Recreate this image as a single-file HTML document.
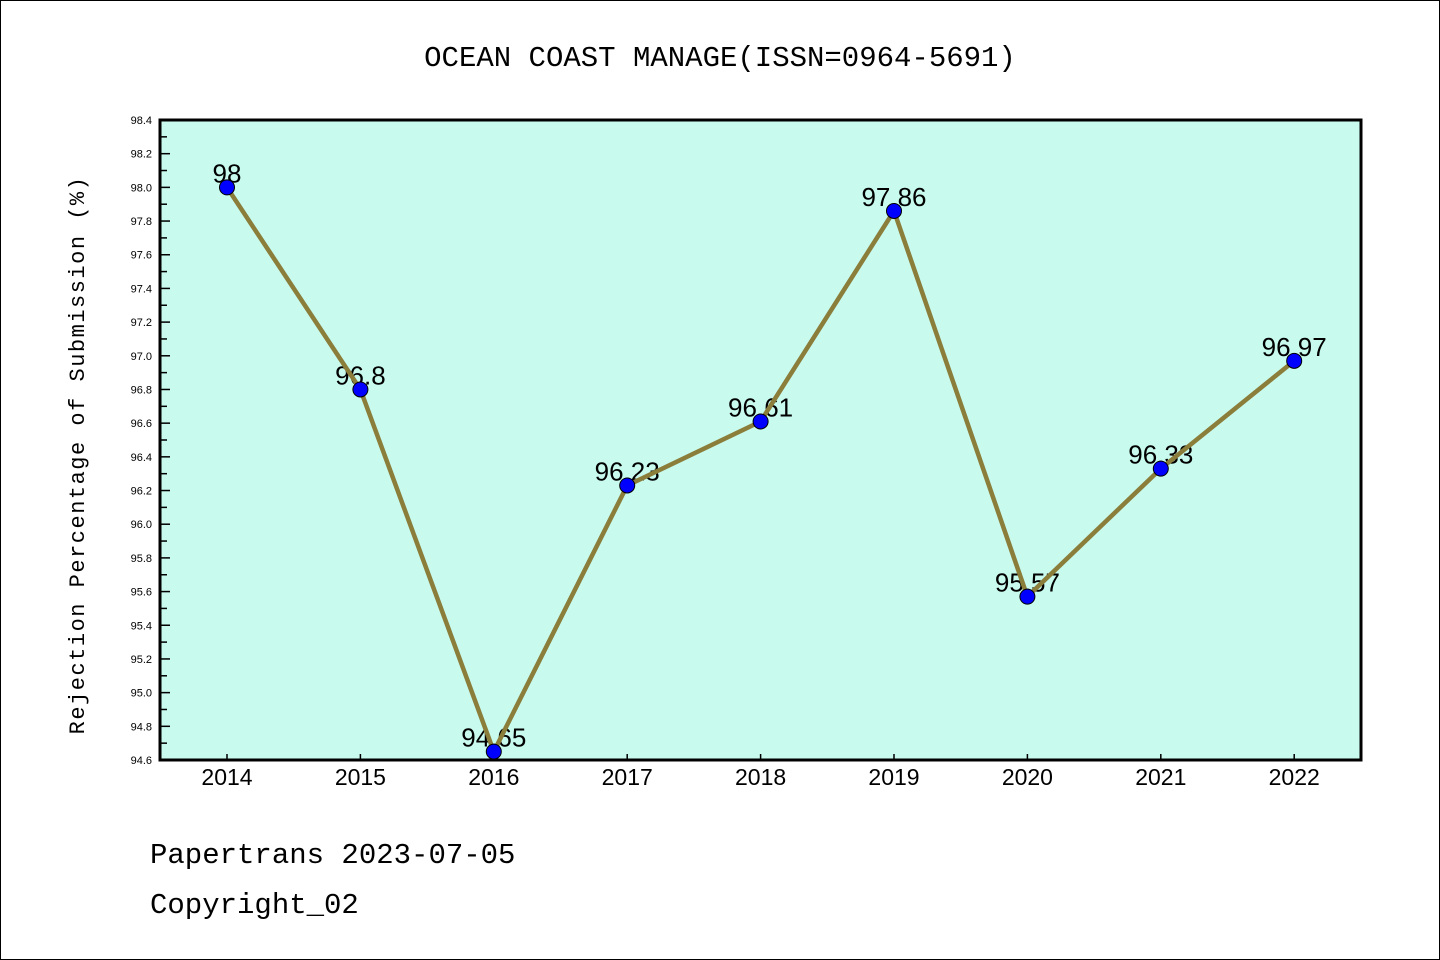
<!DOCTYPE html>
<html><head><meta charset="utf-8"><style>
html,body{margin:0;padding:0;background:#fff}
svg{display:block;font-family:"Liberation Sans","DejaVu Sans",sans-serif}
</style></head><body>
<svg id="chart" width="1440" height="960">
<rect x="0.5" y="0.5" width="1439" height="959" fill="#fff" stroke="#000"/>
<text x="720" y="66" text-anchor="middle" font-size="29" font-family="Liberation Mono, monospace">OCEAN COAST MANAGE(ISSN=0964-5691)</text>
<rect x="160" y="120" width="1201" height="640" fill="#c8faee"/>
<g id="axes"></g>
<g id="series"></g>
<rect x="160" y="120" width="1201" height="640" fill="none" stroke="#000" stroke-width="3"/>
<text transform="translate(84,455) rotate(-90)" text-anchor="middle" font-size="22" font-family="Liberation Mono, monospace" letter-spacing="1.5">Rejection Percentage of Submission (%)</text>
<text x="150" y="863" font-size="29" font-family="Liberation Mono, monospace">Papertrans 2023-07-05</text>
<text x="150" y="913" font-size="29" font-family="Liberation Mono, monospace">Copyright_02</text>
</svg>
<script>
const years = [2014,2015,2016,2017,2018,2019,2020,2021,2022];
const values = [98,96.8,94.65,96.23,96.61,97.86,95.57,96.33,96.97];
const labels = ["98","96.8","94.65","96.23","96.61","97.86","95.57","96.33","96.97"];
const yTicks = ["94.6","94.8","95.0","95.2","95.4","95.6","95.8","96.0","96.2","96.4","96.6","96.8","97.0","97.2","97.4","97.6","97.8","98.0","98.2","98.4"];
const NS="http://www.w3.org/2000/svg";
const yMin=94.6,yMax=98.4,yTop=120,yBot=760;
const y=v=>yBot-(v-yMin)/(yMax-yMin)*(yBot-yTop);
const x=yr=>227+(yr-2014)*133.4;
function mk(t,a,p){const e=document.createElementNS(NS,t);for(const k in a)e.setAttribute(k,a[k]);p.appendChild(e);return e;}
const axes=document.getElementById('axes'),ser=document.getElementById('series');
yTicks.forEach(t=>{const v=parseFloat(t),yy=y(v);
 const l=mk('line',{x1:160,x2:170,y1:yy,y2:yy,stroke:'#000','stroke-width':1.5},axes);
 
 
 const tx=mk('text',{x:152,y:yy+4,'text-anchor':'end','font-size':11},axes);tx.textContent=t;
 
 
 if(v<yMax-0.01){const ym=y(v+0.1);
  const m=mk('line',{x1:160,x2:167,y1:ym,y2:ym,stroke:'#000','stroke-width':1.5},axes);
  
  }
});
years.forEach(yr=>{const xx=x(yr);
 const l=mk('line',{x1:xx,x2:xx,y1:760,y2:754,stroke:'#000','stroke-width':1.5},axes);
 
 
 const tx=mk('text',{x:xx,y:785,'text-anchor':'middle','font-size':23},axes);tx.textContent=yr;
 
 
});
values.forEach((v,i)=>{const tx=mk('text',{x:x(years[i]),y:y(v)-5,'text-anchor':'middle','font-size':26},ser);tx.textContent=labels[i];
 
 });
const pl=mk('polyline',{points:values.map((v,i)=>x(years[i])+','+y(v)).join(' '),fill:'none',stroke:'#8b7d3a','stroke-width':4.5,'stroke-linejoin':'round'},ser);


values.forEach((v,i)=>{const c=mk('circle',{cx:x(years[i]),cy:y(v),r:7.5,fill:'#0000ff',stroke:'#000','stroke-width':1},ser);
 
 });
</script>
</body></html>
